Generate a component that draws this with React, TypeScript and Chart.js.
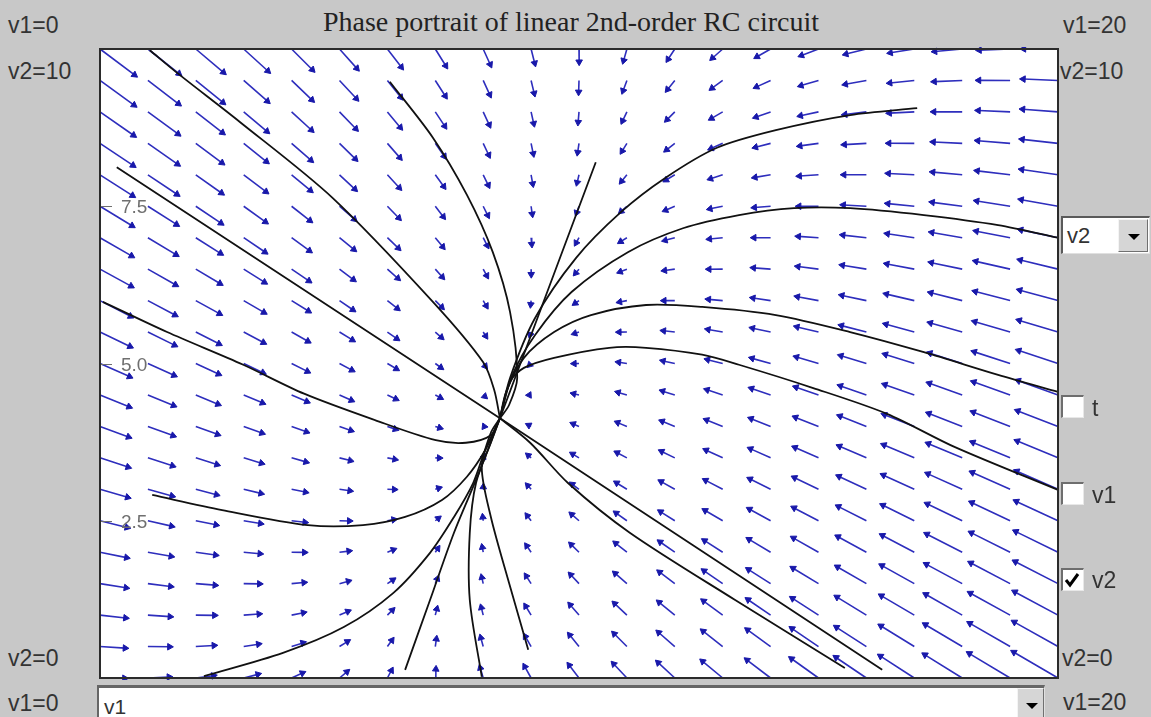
import React, { useEffect, useRef } from "react";
import { Chart, registerables } from "chart.js";

Chart.register(...registerables);

// ---------------- data ----------------
const v1Range = [0, 20];
const v2Range = [0, 10];
const v1Grid = [0, 1, 2, 3, 4, 5, 6, 7, 8, 9, 10, 11, 12, 13, 14, 15, 16, 17, 18, 19, 20];
const v2Grid = [0, 0.5, 1, 1.5, 2, 2.5, 3, 3.5, 4, 4.5, 5, 5.5, 6, 6.5, 7, 7.5, 8, 8.5, 9, 9.5, 10];
// linear circuit: d[v1,v2]/dt = M * ([v1,v2] - equilibrium)
const fieldRow1 = [-2.36, 0.68];
const fieldRow2 = [0.68, -1.34];
const equilibrium = [8.35, 4.13];
const arrowScale = 0.0304;

const yTickValues = [2.5, 5.0, 7.5];
const yTickLabels = ["2.5", "5.0", "7.5"];

const trajA = [[1.04, 9.98], [1.61, 9.62], [2.92, 8.84], [4.86, 7.63], [6.95, 5.98], [8.0, 5.02], [8.23, 4.58], [8.35, 4.13]];
const trajB = [[0.35, 8.12], [8.35, 4.13]];
const trajC = [[0.06, 5.98], [1.4, 5.5], [2.99, 4.98], [4.26, 4.52], [5.74, 4.1], [7.01, 3.78], [7.64, 3.74], [8.16, 3.86], [8.35, 4.13]];
const trajD = [[6.05, 9.48], [6.95, 8.59], [7.66, 7.68], [8.2, 6.77], [8.56, 5.82], [8.71, 4.77], [8.54, 4.34], [8.35, 4.13]];
const trajE = [[10.35, 8.2], [8.35, 4.13]];
const trajF = [[17.06, 9.06], [15.66, 8.95], [14.11, 8.71], [12.88, 8.43], [11.8, 7.95], [10.88, 7.41], [9.94, 6.68], [9.08, 5.72], [8.56, 4.77], [8.35, 4.13]];
const trajG = [[20.0, 7.0], [18.75, 7.2], [17.2, 7.36], [15.66, 7.47], [14.49, 7.47], [13.34, 7.36], [12.17, 7.15], [11.02, 6.77], [9.85, 6.14], [9.08, 5.45], [8.6, 4.8], [8.35, 4.13]];
const trajH = [[20.0, 4.55], [18.75, 4.82], [17.2, 5.18], [15.66, 5.5], [14.11, 5.77], [12.57, 5.9], [11.4, 5.93], [10.25, 5.77], [9.48, 5.5], [8.85, 5.09], [8.48, 4.55], [8.35, 4.13]];
const trajI = [[20.0, 2.99], [17.85, 3.67], [16.43, 4.2], [14.89, 4.61], [13.34, 4.98], [12.57, 5.14], [11.4, 5.25], [10.63, 5.25], [9.48, 5.09], [8.85, 4.93], [8.56, 4.71], [8.35, 4.13]];
const trajJ = [[1.09, 2.91], [2.55, 2.67], [4.34, 2.43], [5.49, 2.43], [6.37, 2.56], [7.14, 2.83], [7.66, 3.2], [8.04, 3.62], [8.35, 4.13]];
const trajK = [[2.17, 0.03], [3.82, 0.4], [5.09, 0.81], [6.12, 1.35], [6.89, 1.99], [7.39, 2.56], [7.79, 3.1], [8.04, 3.62], [8.35, 4.13]];
const trajL = [[6.37, 0.13], [6.89, 1.24], [7.39, 2.31], [7.91, 3.26], [8.35, 4.13]];
const trajM = [[7.97, 0.02], [7.72, 1.24], [7.72, 2.31], [7.85, 3.1], [8.16, 3.74], [8.35, 4.13]];
const trajN = [[8.94, 0.45], [8.54, 1.51], [8.16, 2.56], [7.97, 3.35], [8.16, 3.9], [8.35, 4.13]];
const trajO = [[15.55, 0.16], [13.26, 1.24], [11.06, 2.31], [9.77, 3.1], [8.98, 3.74], [8.35, 4.13]];
const trajP = [[16.33, 0.13], [8.35, 4.13]];

const trajectories = [trajA, trajB, trajC, trajD, trajE, trajF, trajG, trajH, trajI, trajJ, trajK, trajL, trajM, trajN, trajO, trajP];

// ---------------- helpers ----------------
function buildArrows() {
  const pts: any[] = [];
  for (const v2 of v2Grid) {
    for (const v1 of v1Grid) {
      const d1 = v1 - equilibrium[0];
      const d2 = v2 - equilibrium[1];
      const f1 = fieldRow1[0] * d1 + fieldRow1[1] * d2;
      const f2 = fieldRow2[0] * d1 + fieldRow2[1] * d2;
      pts.push({ x: v1, y: v2 });
      pts.push({ x: v1 + arrowScale * f1, y: v2 + arrowScale * f2 });
      pts.push({ x: v1, y: null });
    }
  }
  return pts;
}

const framePlugin = {
  id: "framePlugin",
  beforeDraw(chart: any) {
    const { ctx, chartArea: a } = chart;
    ctx.save();
    ctx.fillStyle = "#ffffff";
    ctx.fillRect(a.left, a.top, a.right - a.left, a.bottom - a.top);
    ctx.restore();
  },
  afterDraw(chart: any) {
    const { ctx, chartArea: a, scales } = chart;
    ctx.save();
    ctx.strokeStyle = "#6f6f6f";
    ctx.fillStyle = "#6f6f6f";
    ctx.lineWidth = 1;
    ctx.font = '19px "Liberation Sans", Arial, sans-serif';
    ctx.textBaseline = "middle";
    ctx.textAlign = "left";
    yTickValues.forEach((v, i) => {
      const py = Math.round(scales.y.getPixelForValue(v)) + 0.5;
      ctx.beginPath();
      ctx.moveTo(a.left, py);
      ctx.lineTo(a.left + 12, py);
      ctx.stroke();
      ctx.fillText(yTickLabels[i], a.left + 21, py + 1);
    });
    ctx.strokeStyle = "#2b2b2b";
    ctx.lineWidth = 2;
    ctx.strokeRect(a.left, a.top, a.right - a.left, a.bottom - a.top);
    ctx.restore();
  },
};

const FONT_SANS = '"Liberation Sans", Arial, sans-serif';

function Label({ text, left, top, size = 23 }: { text: string; left: number; top: number; size?: number }) {
  return (
    <div
      style={{
        position: "absolute",
        left,
        top,
        fontFamily: FONT_SANS,
        fontSize: size,
        lineHeight: 1,
        color: "#333",
        whiteSpace: "nowrap",
      }}
    >
      {text}
    </div>
  );
}

function DropButton({ left, top, width, height }: { left: number; top: number; width: number; height: number }) {
  return (
    <div
      style={{
        position: "absolute",
        left,
        top,
        width,
        height,
        boxSizing: "border-box",
        background: "#d6d6d6",
        borderTop: "1px solid #f4f4f4",
        borderLeft: "1px solid #f4f4f4",
        borderRight: "1px solid #707070",
        borderBottom: "1px solid #707070",
      }}
    >
      <div
        style={{
          position: "absolute",
          left: width / 2 - 6,
          top: height / 2 - 3,
          width: 0,
          height: 0,
          borderLeft: "6px solid transparent",
          borderRight: "6px solid transparent",
          borderTop: "6px solid #000",
        }}
      />
    </div>
  );
}

function CheckBox({ top, checked }: { top: number; checked: boolean }) {
  return (
    <div
      style={{
        position: "absolute",
        left: 1061,
        top,
        width: 23,
        height: 23,
        boxSizing: "border-box",
        background: "#fff",
        borderTop: "2px solid #6e6e6e",
        borderLeft: "2px solid #6e6e6e",
        borderRight: "1px solid #e8e8e8",
        borderBottom: "1px solid #e8e8e8",
      }}
    >
      {checked && (
        <svg width="20" height="20" style={{ position: "absolute", left: 0, top: 0 }}>
          <polyline points="3,10 7,15 15,4" fill="none" stroke="#000" strokeWidth="3" />
        </svg>
      )}
    </div>
  );
}

export default function App() {
  const canvasRef = useRef<HTMLCanvasElement | null>(null);

  useEffect(() => {
    const canvas = canvasRef.current;
    if (!canvas) return;
    const arrowData = buildArrows();
    const datasets: any[] = trajectories.map((t) => ({
      data: t.map((p) => ({ x: p[0], y: p[1] })),
      showLine: true,
      borderColor: "#111111",
      borderWidth: 1.8,
      pointRadius: 0,
      tension: 0.3,
      order: 0,
      clip: 2,
    }));
    datasets.push({
      data: arrowData,
      showLine: true,
      spanGaps: false,
      borderColor: "#2e2ebd",
      borderWidth: 1.6,
      pointStyle: "triangle",
      pointBackgroundColor: "#1818aa",
      pointBorderColor: "#1818aa",
      pointBorderWidth: 1,
      pointRadius: (c: any) => (c.dataIndex % 3 === 1 ? 3.8 : 0),
      rotation: (c: any) => {
        const i = c.dataIndex;
        if (i % 3 !== 1) return 0;
        const tail = c.dataset.data[i - 1];
        const head = c.dataset.data[i];
        const xs = c.chart.scales.x;
        const ys = c.chart.scales.y;
        const dx = xs.getPixelForValue(head.x) - xs.getPixelForValue(tail.x);
        const dy = ys.getPixelForValue(head.y) - ys.getPixelForValue(tail.y);
        return (Math.atan2(dx, -dy) * 180) / Math.PI;
      },
      order: 1,
      clip: 2,
    });

    const chart = new Chart(canvas, {
      type: "scatter",
      data: { datasets },
      options: {
        animation: false,
        responsive: false,
        devicePixelRatio: 1,
        events: [],
        layout: { padding: 10 },
        plugins: { legend: { display: false }, tooltip: { enabled: false }, title: { display: false } },
        scales: {
          x: { type: "linear", min: v1Range[0], max: v1Range[1], display: false },
          y: { type: "linear", min: v2Range[0], max: v2Range[1], display: false },
        },
      },
      plugins: [framePlugin],
    } as any);
    return () => chart.destroy();
  }, []);

  return (
    <div
      style={{
        position: "fixed",
        left: 0,
        top: 0,
        width: 1151,
        height: 717,
        overflow: "hidden",
        background: "#c8c8c8",
      }}
    >
      <div
        style={{
          position: "absolute",
          left: 571,
          top: 8,
          transform: "translateX(-50%)",
          fontFamily: '"Liberation Serif", "Times New Roman", serif',
          fontSize: 28,
          lineHeight: 1,
          color: "#222",
          whiteSpace: "nowrap",
        }}
      >
        Phase portrait of linear 2nd-order RC circuit
      </div>

      <Label text="v1=0" left={8} top={14} />
      <Label text="v2=10" left={8} top={60} />
      <Label text="v2=0" left={8} top={647} />
      <Label text="v1=0" left={8} top={692} />
      <Label text="v1=20" left={1063} top={14} />
      <Label text="v2=10" left={1060} top={60} />
      <Label text="v2=0" left={1062} top={647} />
      <Label text="v1=20" left={1063} top={691} />

      <canvas
        ref={canvasRef}
        width={978}
        height={649}
        style={{ position: "absolute", left: 90, top: 39, width: 978, height: 649 }}
      />

      {/* right combo box */}
      <div
        style={{
          position: "absolute",
          left: 1061,
          top: 216,
          width: 89,
          height: 38,
          boxSizing: "border-box",
          background: "#fff",
          borderTop: "2px solid #5a5a5a",
          borderLeft: "2px solid #5a5a5a",
          borderRight: "1px solid #e0e0e0",
          borderBottom: "1px solid #e0e0e0",
        }}
      >
        <div style={{ position: "absolute", left: 4, top: 7, fontFamily: FONT_SANS, fontSize: 22, lineHeight: 1, color: "#333" }}>v2</div>
        <DropButton left={55} top={1} width={30} height={33} />
      </div>

      <CheckBox top={395} checked={false} />
      <Label text="t" left={1092} top={397} />
      <CheckBox top={482} checked={false} />
      <Label text="v1" left={1092} top={484} />
      <CheckBox top={568} checked={true} />
      <Label text="v2" left={1092} top={569} />

      {/* bottom combo box */}
      <div
        style={{
          position: "absolute",
          left: 97,
          top: 685,
          width: 948,
          height: 40,
          boxSizing: "border-box",
          background: "#fff",
          borderTop: "3px solid #666",
          borderLeft: "2px solid #666",
          borderRight: "1px solid #e0e0e0",
        }}
      >
        <div style={{ position: "absolute", left: 5, top: 8, fontFamily: FONT_SANS, fontSize: 21, lineHeight: 1, color: "#333" }}>v1</div>
        <DropButton left={918} top={0} width={27} height={33} />
      </div>
    </div>
  );
}
